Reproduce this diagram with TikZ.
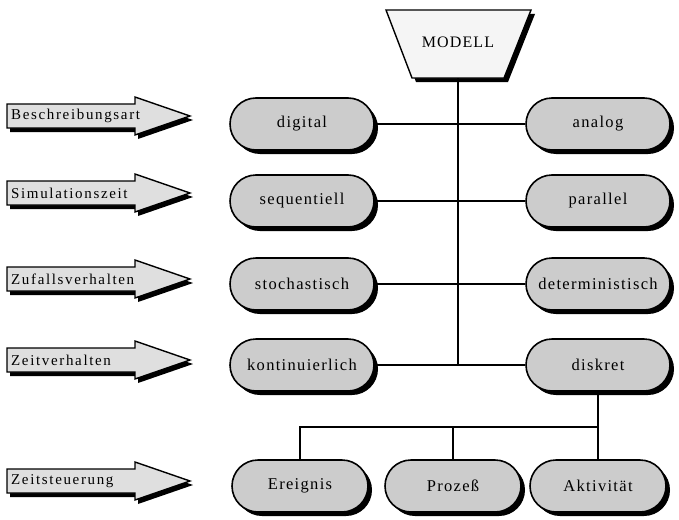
\documentclass[tikz,border=0pt]{standalone}
\usepackage{fontspec}
\setmainfont{Liberation Serif}
\usetikzlibrary{shapes.misc,shadows}

% one grey arrow with its label on the left margin
\newcommand\sidearrow[3]{%
  \filldraw[arrowbody] (7,{#2-12}) -- (135,{#2-12}) -- (135,{#2-19}) -- (190,#2)
    -- (135,{#2+19}) -- (135,{#2+12}) -- (7,{#2+12}) -- cycle;
  \node[arrowlabel] (#1) at (11,#2) {#3};}

\begin{document}
\begin{tikzpicture}[x=1pt,y=-1pt,
  hardshadow/.style={drop shadow={shadow xshift=4pt, shadow yshift=-4pt, fill=black, opacity=1}},
  pill/.style={rounded rectangle, draw=black, line width=1.6pt, fill=gray!40,
    minimum width=144pt, minimum height=52pt, inner sep=0pt, hardshadow,
    font=\fontsize{16.5}{18}\selectfont\addfontfeature{LetterSpace=8}},
  smallpill/.style={pill, minimum width=136pt},
  arrowbody/.style={draw=black, line width=1.4pt, fill=gray!25, line join=miter,
    drop shadow={shadow xshift=3pt, shadow yshift=-4pt, fill=black, opacity=1}},
  arrowlabel/.style={anchor=west, inner sep=0pt,
    font=\fontsize{15}{17}\selectfont\addfontfeature{LetterSpace=11}},
  trapbox/.style={draw=black, line width=1.4pt, fill=gray!8, hardshadow},
  link/.style={draw=black, line width=1.3pt}]

\useasboundingbox (0,0) rectangle (679,519);

% root of the tree
\filldraw[trapbox] (386,10) -- (531,10) -- (504,78) -- (412,78) -- cycle;
\node[font=\fontsize{16}{18}\selectfont\addfontfeature{LetterSpace=7}] (modell) at (458,42) {MODELL};
\coordinate (modbot) at (458,78);

% classification criteria
\sidearrow{besch}{116}{Beschreibungsart}
\sidearrow{simz}{193}{Simulationszeit}
\sidearrow{zuf}{279}{Zufallsverhalten}
\sidearrow{zeitv}{360}{Zeitverhalten}
\sidearrow{zeits}{481}{Zeitsteuerung}

% alternatives per criterion
\node[pill] (dig) at (302,124) {digital};
\node[pill] (ana) at (598,124) {analog};
\node[pill] (seq) at (302,201) {sequentiell};
\node[pill] (par) at (598,201) {parallel};
\node[pill] (sto) at (302,284) {stochastisch};
\node[pill] (det) at (598,284) {deterministisch};
\node[pill] (kon) at (302,365) {kontinuierlich};
\node[pill] (dis) at (598,365) {diskret};

\node[smallpill] (ere) at (300,486) {Ereignis};
\node[smallpill] (pro) at (453,486) {Prozeß};
\node[smallpill] (akt) at (598,486) {Aktivität};

% trunk and row connections
\draw[link] (modbot) -- (modbot |- kon.east);
\draw[link] (dig.east) -- (ana.west);
\draw[link] (seq.east) -- (par.west);
\draw[link] (sto.east) -- (det.west);
\draw[link] (kon.east) -- (dis.west);

% bus below "diskret"
\coordinate (bus) at (0,427);
\draw[link] (dis.south) -- (dis.south |- bus);
\draw[link] (ere.north) -- (ere.north |- bus) -- (akt.north |- bus) -- (akt.north);
\draw[link] (pro.north) -- (pro.north |- bus);
\end{tikzpicture}
\end{document}
